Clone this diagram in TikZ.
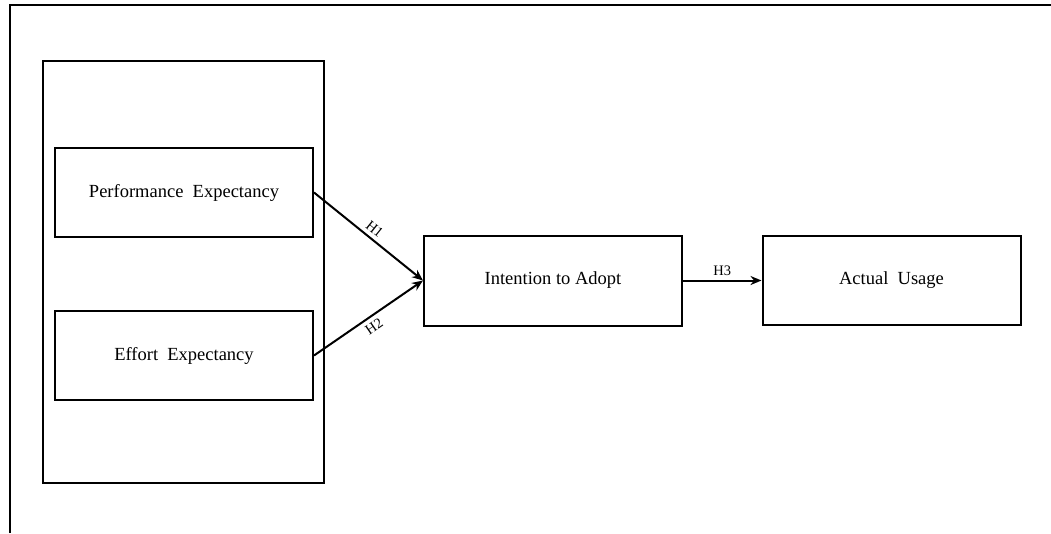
\documentclass[tikz,border=0pt]{standalone}
\usepackage{fontspec}
\setmainfont{Liberation Serif}
\usetikzlibrary{positioning,arrows.meta}
\tikzset{
  varbox/.style={draw,line width=2pt,minimum width=258pt,minimum height=89pt,
    font=\fontsize{18.5}{22}\selectfont},
  hyp/.style={line width=2pt,-{Stealth[length=11pt,width=9pt]}},
  hlab/.style={font=\fontsize{14.5}{16}\selectfont,inner sep=4pt}
}
\begin{document}
\begin{tikzpicture}[x=1pt,y=-1pt]
  \useasboundingbox (0,0) rectangle (1051,533);
  % cadre
  \draw [line width=2.4pt] (10,533) -- (10,5) -- (1051,5);
  % groupe des variables
  \node [draw,line width=2pt,minimum width=281pt,minimum height=422pt] (grp) at (183.5,272) {};
  \node [varbox] (perf) at (184,192.5) {Performance\ \ Expectancy};
  \node [varbox] (effort) at (184,355.5) {Effort\ \ Expectancy};
  \node [varbox,minimum height=90pt] (intent) at (553,280.5) {Intention to Adopt};
  \node [varbox] (usage) at (891.5,280.5) {Actual\ \ Usage};
  \draw [hyp] (perf.east) -- (intent.west) node [hlab,midway,above,sloped] {H1};
  \draw [hyp] (effort.east) -- (intent.west) node [hlab,midway,below,sloped] {H2};
  \draw [hyp] (intent) -- (usage) node [hlab,midway,above] {H3};
\end{tikzpicture}
\end{document}
